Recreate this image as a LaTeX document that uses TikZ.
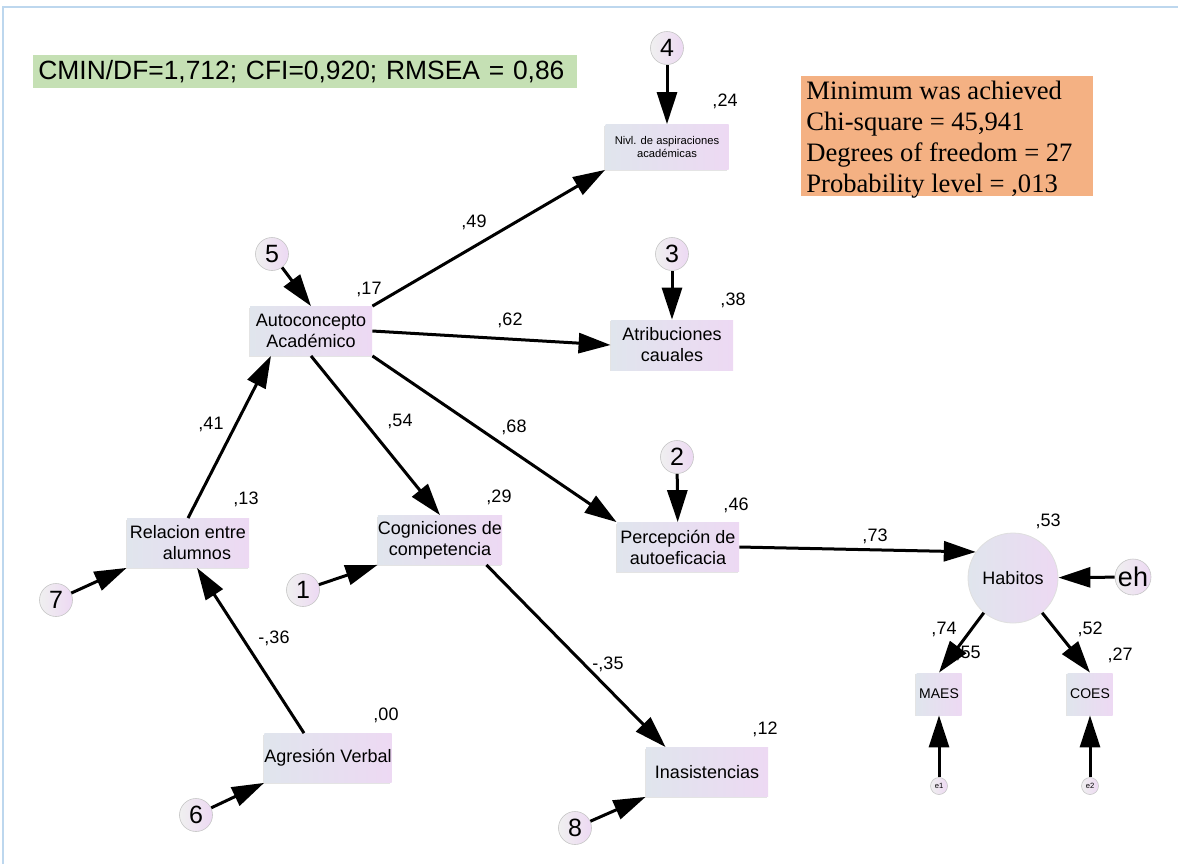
\documentclass[tikz,border=0pt]{standalone}
\usepackage{fontspec}
\setmainfont{Liberation Sans}
\newfontfamily\timesfont{Liberation Serif}
\usetikzlibrary{arrows.meta,calc,shadows}
\definecolor{boxl}{RGB}{224,229,237}
\definecolor{boxr}{RGB}{237,217,243}
\definecolor{fitgreen}{RGB}{197,224,180}
\definecolor{fitorange}{RGB}{244,177,131}
\definecolor{framebl}{RGB}{189,215,238}
\tikzset{
	varbox/.style={rectangle, inner sep=0pt, align=center, minimum width=61pt, minimum height=24.5pt, left color=boxl, right color=boxr, font=\fontsize{9}{10.5}\selectfont, drop shadow={shadow xshift=-0.7pt, shadow yshift=-0.7pt, fill=gray!60, opacity=0.35}},
	errnum/.style={circle, inner sep=0pt, minimum size=16.5pt, left color=gray!12, right color=boxr, draw=gray!45, line width=0.3pt, font=\fontsize{12.5}{13}\selectfont},
	errsmall/.style={errnum, minimum size=8.5pt, font=\fontsize{3.8}{4}\selectfont},
	coef/.style={font=\fontsize{9}{10}\selectfont, inner sep=0pt},
	regarrow/.style={line width=1.5pt, -{Triangle[length=16pt, width=10pt]}},
}

\begin{document}
\begin{tikzpicture}[x=0.5pt, y=-0.5pt]
	%%%%% START %%%%%
	\def\lw{1pt}
	\useasboundingbox (0,0) rectangle (1178,864);
	\draw[framebl, line width=\lw] (3,864) -- (3,7) -- (1178,7);
	
	% fit indices
	\node (fitidx) [anchor=north west, fill=fitgreen, minimum height=16.5pt, text width=267pt, inner xsep=2.5pt, inner ysep=0pt, align=left, font=\fontsize{13.2}{15}\selectfont] at (33,55) {CMIN/DF=1,712; CFI=0,920; RMSEA = 0,86};
	\node (chisqbg) [anchor=north west, fill=fitorange, minimum width=146pt, minimum height=60pt, inner sep=0pt] at (801,76) {};
	\node (chisq) [anchor=west, inner xsep=2.5pt, inner ysep=0pt, align=left, font=\timesfont\fontsize{13.3}{15.5}\selectfont] at (801,140) {Minimum was achieved\\Chi-square = 45,941\\Degrees of freedom = 27\\Probability level = ,013};
	
	% observed variables
	\node[varbox, minimum width=61.5pt, minimum height=22.5pt, font=\fontsize{5.6}{6.5}\selectfont] (nivel) at (667,147) {Nivl. de aspiraciones\\académicas};
	\node[varbox] (auto) at (311,331) {Autoconcepto\\Académico};
	\node[varbox, minimum height=25pt] (atrib) at (672,345) {Atribuciones\\cauales};
	\node[varbox] (relac) at (188,543) {Relacion entre\\\hspace*{1em}alumnos};
	\node[varbox] (cogn) at (440,540) {Cogniciones de\\competencia};
	\node[varbox] (perc) at (678,547) {Percepción de\\autoeficacia};
	\node[varbox] (agres) at (328,758) {Agresión Verbal};
	\node[varbox] (inasis) at (707,772) {Inasistencias};
	\node[circle, minimum size=45pt, inner sep=0pt, left color=boxl, right color=boxr, draw=gray!25, font=\fontsize{9}{10}\selectfont] (habitos) at (1013,578) {Habitos};
	\node[varbox, minimum width=22.5pt, minimum height=21pt, font=\fontsize{7}{8}\selectfont] (maes) at (939,694) {MAES};
	\node[varbox, minimum width=22.5pt, minimum height=21pt, font=\fontsize{7}{8}\selectfont] (coes) at (1090,694) {COES};
	
	% error terms
	\node[errnum] (n4) at (667,48) {4};
	\node[errnum] (n5) at (272,254) {5};
	\node[errnum] (n3) at (672,254) {3};
	\node[errnum] (n2) at (677,457) {2};
	\node[errnum] (n7) at (56,600) {7};
	\node[errnum] (n1) at (303,590) {1};
	\node[errnum] (n6) at (196,815) {6};
	\node[errnum] (n8) at (575,828) {8};
	\node[errnum, minimum size=18pt, font=\fontsize{13.5}{14}\selectfont] (eh) at (1133,577) {eh};
	\node[errsmall] (e1) at (939,786) {e1};
	\node[errsmall] (e2) at (1090,786) {e2};
	
	% paths
	\draw[regarrow] (n4) -- (nivel);
	\draw[regarrow] (auto.north east) -- (nivel.south west);
	\draw[regarrow] (n5) -- (auto.north);
	\draw[regarrow] (auto.east) -- (atrib.west);
	\draw[regarrow] (n3) -- (atrib);
	\draw[regarrow] (auto.south) -- (cogn.north);
	\draw[regarrow] (auto.south east) -- (perc.north west);
	\draw[regarrow] (n2) -- (perc);
	\draw[regarrow] (relac.north) -- ([xshift=-20pt]auto.south);
	\draw[regarrow] (n7) -- (relac.south west);
	\draw[regarrow] ([xshift=-12pt]agres.north) -- ([xshift=4.5pt]relac.south);
	\draw[regarrow] (n1) -- (cogn.south west);
	\draw[regarrow] ([xshift=-8pt]cogn.south east) -- ([xshift=10pt]inasis.north west);
	\draw[regarrow] (n6) -- (agres.south west);
	\draw[regarrow] (n8) -- (inasis.south west);
	\draw[regarrow] (perc.east) -- (habitos.145);
	\draw[regarrow] (eh) -- (habitos);
	\draw[regarrow] (habitos.-130) -- (maes.north);
	\draw[regarrow] (habitos.-50) -- (coes.north);
	\draw[regarrow] (e1) -- (maes);
	\draw[regarrow] (e2) -- (coes);
	
	% estimates
	\node[coef] (r24) at (725,101) {,24};
	\node[coef] (r17) at (369,289) {,17};
	\node[coef] (r38) at (733,300) {,38};
	\node[coef] (r13) at (246,499) {,13};
	\node[coef] (r29) at (499,497) {,29};
	\node[coef] (r46) at (736,505) {,46};
	\node[coef] (r53) at (1048,521) {,53};
	\node[coef] (r55) at (968,653) {,55};
	\node[coef] (r27) at (1120,655) {,27};
	\node[coef] (r00) at (386,715) {,00};
	\node[coef] (r12) at (765,729) {,12};
	\node[coef] (p49) at (474,222) {,49};
	\node[coef] (p62) at (510,320) {,62};
	\node[coef] (p54) at (400,421) {,54};
	\node[coef] (p68) at (514,427) {,68};
	\node[coef] (p41) at (211,424) {,41};
	\node[coef] (p36) at (274,638) {-,36};
	\node[coef] (p35) at (608,664) {-,35};
	\node[coef] (p73) at (875,536) {,73};
	\node[coef] (p74) at (944,629) {,74};
	\node[coef] (p52) at (1090,629) {,52};
	%%%%% END %%%%%
\end{tikzpicture}
\end{document}
